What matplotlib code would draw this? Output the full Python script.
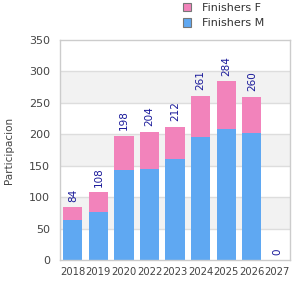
import matplotlib
matplotlib.use("Agg")
import matplotlib.pyplot as plt
from matplotlib.patches import Patch
from matplotlib import font_manager

years = ["2018", "2019", "2020", "2022", "2023", "2024", "2025", "2026", "2027"]
male = [64, 77, 143, 145, 161, 195, 208, 202, 0]
female = [20, 31, 55, 59, 51, 66, 76, 58, 0]
totals = [84, 108, 198, 204, 212, 261, 284, 260, 0]
yticks = [0, 50, 100, 150, 200, 250, 300, 350]

c_m = "#5fa8f2"
c_f = "#f283bb"

cond = font_manager.FontProperties(family="DejaVu Sans", stretch="condensed", size=8)

fig = plt.figure(figsize=(3, 3), dpi=100)
ax = fig.add_axes([0.2, 0.133, 0.767, 0.734])

x = list(range(len(years)))
for i in range(len(yticks) - 1):
    if i % 2 == 1:
        ax.axhspan(yticks[i], yticks[i + 1], color="#f2f2f2", zorder=0, lw=0)
for t in yticks[1:-1]:
    ax.axhline(t, color="#dddddd", lw=1, zorder=0.5)

ax.bar(x, male, width=0.75, color=c_m, zorder=2)
ax.bar(x, female, bottom=male, width=0.75, color=c_f, zorder=2)

for xi, t in zip(x, totals):
    ax.annotate(str(t), (xi, t), xytext=(0, 4), textcoords="offset points",
                rotation=90, ha="center", va="bottom", fontsize=7.5,
                color="#1a1a9a", zorder=3)

ax.set_xlim(-0.5, len(years) - 0.5)
ax.set_ylim(0, 350)
ax.set_yticks(yticks)
ax.set_xticks(x)
ax.set_xticklabels(years)
ax.tick_params(length=0, labelsize=8, labelcolor="#444444")
ax.tick_params(axis="x", pad=5)
ax.tick_params(axis="y", pad=7)
for lab in ax.get_xticklabels():
    lab.set_fontproperties(cond)
for s in ax.spines.values():
    s.set_color("#cccccc")
    s.set_linewidth(1)

ax.set_ylabel("Participacion", fontsize=7.5, color="#444444")
ax.yaxis.set_label_coords(-0.2, 0.5)

handles = [Patch(facecolor=c_f, edgecolor="#777777", lw=0.8, label="Finishers F"),
           Patch(facecolor=c_m, edgecolor="#777777", lw=0.8, label="Finishers M")]
fig.legend(handles=handles, loc="upper left", bbox_to_anchor=(0.575, 1.025),
           frameon=False, fontsize=8, handlelength=0.8, handleheight=0.8,
           handletextpad=1.0, labelspacing=0.5, labelcolor="#333333")

fig.savefig("out.png", dpi=100)
